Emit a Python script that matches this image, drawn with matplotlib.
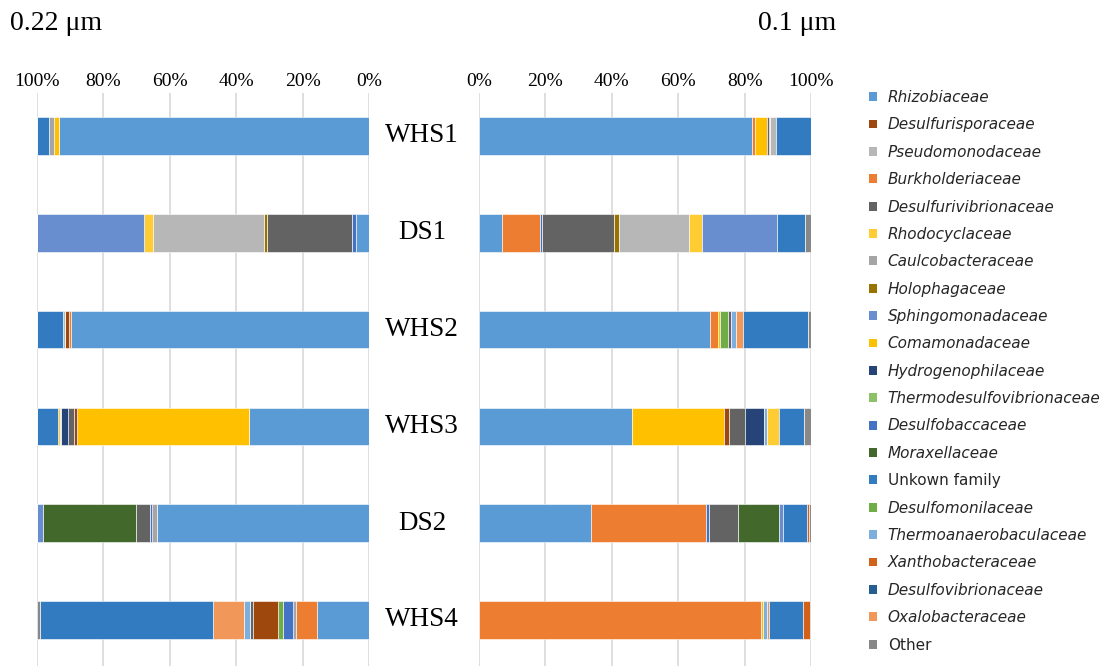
import numpy as np
import matplotlib
matplotlib.use('Agg')
import matplotlib.pyplot as plt
from matplotlib.patches import Patch

# --------- Data (relative abundance, %) ---------
samples = ['WHS1', 'DS1', 'WHS2', 'WHS3', 'DS2', 'WHS4']
pct_ticks = [0, 20, 40, 60, 80, 100]

# stacking order used in the bars
stack_order = [
    'Rhizobiaceae', 'Burkholderiaceae', 'Comamonadaceae', 'Caulcobacteraceae',
    'Desulfobaccaceae', 'Desulfomonilaceae', 'Thermodesulfovibrionaceae',
    'Desulfurisporaceae', 'Desulfurivibrionaceae', 'Hydrogenophilaceae',
    'Desulfovibrionaceae', 'Thermoanaerobaculaceae', 'Holophagaceae',
    'Pseudomonodaceae', 'Rhodocyclaceae', 'Oxalobacteraceae', 'Moraxellaceae',
    'Sphingomonadaceae', 'Unkown family', 'Xanthobacteraceae', 'Other',
]

# order shown in the legend
legend_order = [
    'Rhizobiaceae', 'Desulfurisporaceae', 'Pseudomonodaceae', 'Burkholderiaceae',
    'Desulfurivibrionaceae', 'Rhodocyclaceae', 'Caulcobacteraceae', 'Holophagaceae',
    'Sphingomonadaceae', 'Comamonadaceae', 'Hydrogenophilaceae',
    'Thermodesulfovibrionaceae', 'Desulfobaccaceae', 'Moraxellaceae',
    'Unkown family', 'Desulfomonilaceae', 'Thermoanaerobaculaceae',
    'Xanthobacteraceae', 'Desulfovibrionaceae', 'Oxalobacteraceae', 'Other',
]

colors = {
    'Rhizobiaceae': '#5B9BD5',
    'Desulfurisporaceae': '#9E480E',
    'Pseudomonodaceae': '#B7B7B7',
    'Burkholderiaceae': '#ED7D31',
    'Desulfurivibrionaceae': '#636363',
    'Rhodocyclaceae': '#FFCD33',
    'Caulcobacteraceae': '#A5A5A5',
    'Holophagaceae': '#997300',
    'Sphingomonadaceae': '#698ED0',
    'Comamonadaceae': '#FFC000',
    'Hydrogenophilaceae': '#264478',
    'Thermodesulfovibrionaceae': '#8CC168',
    'Desulfobaccaceae': '#4472C4',
    'Moraxellaceae': '#43682B',
    'Unkown family': '#327BC1',
    'Desulfomonilaceae': '#70AD47',
    'Thermoanaerobaculaceae': '#7CAFDD',
    'Xanthobacteraceae': '#D2621A',
    'Desulfovibrionaceae': '#255E91',
    'Oxalobacteraceae': '#F1975A',
    'Other': '#888888',
}

# 0.22 um fraction: WHS1, DS1, WHS2, WHS3, DS2, WHS4
big = {
    'Rhizobiaceae':              [93.5, 4.0, 89.7, 36.2, 63.8, 15.8],
    'Burkholderiaceae':          [0, 0, 0.8, 0, 0, 6.3],
    'Comamonadaceae':            [1.5, 0, 0, 51.7, 0, 0],
    'Caulcobacteraceae':         [1.3, 0, 0, 0, 1.5, 0.8],
    'Desulfobaccaceae':          [0, 1.2, 0, 0, 0.7, 2.9],
    'Desulfomonilaceae':         [0, 0, 0, 0, 0, 1.5],
    'Thermodesulfovibrionaceae': [0, 0, 0, 0, 0, 0],
    'Desulfurisporaceae':        [0, 0, 1.0, 1.0, 0, 7.6],
    'Desulfurivibrionaceae':     [0, 25.5, 0, 1.7, 4.3, 0.8],
    'Hydrogenophilaceae':        [0, 0, 0, 2.2, 0, 0],
    'Desulfovibrionaceae':       [0, 0, 0, 0, 0, 0],
    'Thermoanaerobaculaceae':    [0, 0, 0, 0.4, 0, 2.0],
    'Holophagaceae':             [0, 1.0, 0, 0, 0, 0],
    'Pseudomonodaceae':          [0, 33.3, 0.8, 0, 0, 0],
    'Rhodocyclaceae':            [0, 2.8, 0, 0.5, 0, 0],
    'Oxalobacteraceae':          [0, 0, 0, 0, 0, 9.2],
    'Moraxellaceae':             [0, 0, 0, 0, 27.9, 0],
    'Sphingomonadaceae':         [0, 32.2, 0, 0, 1.8, 0],
    'Unkown family':             [3.7, 0, 7.7, 6.3, 0, 52.1],
    'Xanthobacteraceae':         [0, 0, 0, 0, 0, 0],
    'Other':                     [0, 0, 0, 0, 0, 1.0],
}

# 0.1 um fraction: WHS1, DS1, WHS2, WHS3, DS2, WHS4
small = {
    'Rhizobiaceae':              [82.2, 6.8, 69.5, 46.0, 33.7, 0],
    'Burkholderiaceae':          [1.0, 11.7, 2.5, 0, 34.8, 85.0],
    'Comamonadaceae':            [3.6, 0, 0.7, 27.8, 0, 0.5],
    'Caulcobacteraceae':         [0, 0, 0, 0, 0, 0],
    'Desulfobaccaceae':          [0, 0.5, 0, 0, 0.7, 0],
    'Desulfomonilaceae':         [0, 0, 2.3, 0, 0, 0],
    'Thermodesulfovibrionaceae': [0, 0, 0, 0, 0, 0],
    'Desulfurisporaceae':        [0, 0, 0, 1.5, 0, 0],
    'Desulfurivibrionaceae':     [0.7, 21.8, 1.0, 4.9, 8.8, 0],
    'Hydrogenophilaceae':        [0, 0, 0, 5.5, 0, 0],
    'Desulfovibrionaceae':       [0, 0, 0, 0, 0, 0],
    'Thermoanaerobaculaceae':    [0, 0, 1.5, 1.0, 0, 1.3],
    'Holophagaceae':             [0, 1.4, 0, 0, 0, 0],
    'Pseudomonodaceae':          [2.0, 21.1, 0, 0, 0, 0],
    'Rhodocyclaceae':            [0, 4.0, 0, 3.8, 0, 0],
    'Oxalobacteraceae':          [0, 0, 2.0, 0, 0, 0.5],
    'Moraxellaceae':             [0, 0, 0, 0, 12.3, 0],
    'Sphingomonadaceae':         [0, 22.4, 0, 0, 1.2, 0],
    'Unkown family':             [10.5, 8.6, 19.5, 7.3, 7.2, 10.2],
    'Xanthobacteraceae':         [0, 0, 0, 0, 0.6, 2.2],
    'Other':                     [0, 1.7, 1.0, 2.2, 0.7, 0.3],
}

serif = ['Liberation Serif', 'DejaVu Serif']
W, H = 1112, 666
ROW0, ROW5, GRID_TOP = 136, 620, 93   # pixel rows of first/last bar and top of grid
step = (ROW5 - ROW0) / 5


# --------- Drawing ---------
def draw_panel(ax, data, reverse):
    y = np.arange(len(samples))
    left = np.zeros(len(samples))
    for fam in stack_order:
        vals = np.array(data[fam], dtype=float)
        ax.barh(y, vals, left=left, height=0.39, color=colors[fam],
                edgecolor='white', linewidth=0.4, zorder=3)
        left += vals
    ax.set_xlim((100, 0) if reverse else (0, 100))
    ax.set_ylim(5 + (H - ROW5) / step, -(ROW0 - GRID_TOP) / step)
    ax.set_xticks(pct_ticks)
    ax.set_xticklabels([f'{t}%' for t in pct_ticks], family=serif, fontsize=14)
    ax.xaxis.tick_top()
    ax.tick_params(axis='x', length=0, pad=2)
    ax.set_yticks([])
    ax.grid(axis='x', color='#D9D9D9', linewidth=1.2, zorder=0)
    for s in ax.spines.values():
        s.set_visible(False)


fig = plt.figure(figsize=(W / 100, H / 100), dpi=100)
ax_h = (H - GRID_TOP) / H
ax_l = fig.add_axes([37 / W, 0, 332 / W, ax_h])
ax_r = fig.add_axes([479 / W, 0, 332 / W, ax_h])

draw_panel(ax_l, big, reverse=True)
draw_panel(ax_r, small, reverse=False)

# sample labels between the panels
for i, s in enumerate(samples):
    yy = 1 - (ROW0 + i * step) / H
    fig.text(422 / W, yy, s, ha='center', va='center', family=serif, fontsize=19.5)

fig.text(10 / W, 1 - 24 / H, '0.22 \u03bcm', ha='left', va='center', family=serif, fontsize=20)
fig.text(836 / W, 1 - 24 / H, '0.1 \u03bcm', ha='right', va='center', family=serif, fontsize=20)

handles = [Patch(facecolor=colors[f], edgecolor='none') for f in legend_order]
leg = fig.legend(handles, legend_order, loc='upper left', bbox_to_anchor=(869 / W, 1 - 90 / H),
                 frameon=False, prop={'family': 'DejaVu Sans', 'size': 11},
                 handlelength=0.52, handleheight=0.52, handletextpad=0.7,
                 labelspacing=0.81, borderaxespad=0, borderpad=0)
for t in leg.get_texts():
    if t.get_text() not in ('Unkown family', 'Other'):
        t.set_fontstyle('italic')
    t.set_color('#262626')

fig.savefig('out.png', dpi=100)
